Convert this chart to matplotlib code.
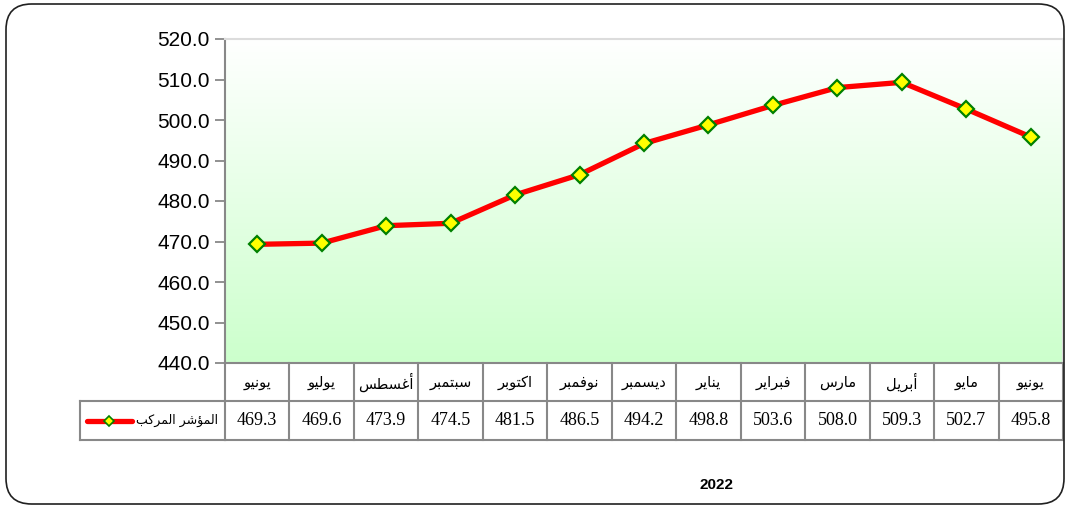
import matplotlib
matplotlib.use("Agg")
import matplotlib.pyplot as plt
from matplotlib.patches import FancyBboxPatch
from matplotlib.lines import Line2D
import matplotlib.transforms as mtransforms
import numpy as np

# data
months = ["يونيو", "يوليو", "أغسطس", "سبتمبر", "اكتوبر", "نوفمبر", "ديسمبر",
          "يناير", "فبراير", "مارس", "أبريل", "مايو", "يونيو"]
values = [469.3, 469.6, 473.9, 474.5, 481.5, 486.5, 494.2,
          498.8, 503.6, 508.0, 509.3, 502.7, 495.8]
series_name = "المؤشر المركب"
year_label = "2022"
yticks = [440, 450, 460, 470, 480, 490, 500, 510, 520]

# minimal arabic shaping (matplotlib has no bidi/joining)
# letter: (isolated, final, initial, medial) ; None -> does not join forward
FORMS = {
    "ا": (0xFE8D, 0xFE8E, None, None),
    "أ": (0xFE83, 0xFE84, None, None),
    "ب": (0xFE8F, 0xFE90, 0xFE91, 0xFE92),
    "ت": (0xFE95, 0xFE96, 0xFE97, 0xFE98),
    "د": (0xFEA9, 0xFEAA, None, None),
    "ر": (0xFEAD, 0xFEAE, None, None),
    "س": (0xFEB1, 0xFEB2, 0xFEB3, 0xFEB4),
    "ش": (0xFEB5, 0xFEB6, 0xFEB7, 0xFEB8),
    "ط": (0xFEC1, 0xFEC2, 0xFEC3, 0xFEC4),
    "غ": (0xFECD, 0xFECE, 0xFECF, 0xFED0),
    "ف": (0xFED1, 0xFED2, 0xFED3, 0xFED4),
    "ك": (0xFED9, 0xFEDA, 0xFEDB, 0xFEDC),
    "ل": (0xFEDD, 0xFEDE, 0xFEDF, 0xFEE0),
    "م": (0xFEE1, 0xFEE2, 0xFEE3, 0xFEE4),
    "ن": (0xFEE5, 0xFEE6, 0xFEE7, 0xFEE8),
    "و": (0xFEED, 0xFEEE, None, None),
    "ؤ": (0xFE85, 0xFE86, None, None),
    "ي": (0xFEF1, 0xFEF2, 0xFEF3, 0xFEF4),
}


def shape(text):
    out = []
    for i, ch in enumerate(text):
        if ch not in FORMS:
            out.append(ch)
            continue
        prev = text[i - 1] if i > 0 else None
        nxt = text[i + 1] if i + 1 < len(text) else None
        join_prev = prev in FORMS and FORMS[prev][2] is not None
        join_next = nxt in FORMS and FORMS[ch][2] is not None
        iso, fin, ini, med = FORMS[ch]
        if join_prev and join_next:
            c = med
        elif join_prev:
            c = fin
        elif join_next:
            c = ini
        else:
            c = iso
        out.append(chr(c))
    return "".join(out)[::-1]


W, H = 1068, 507
fig = plt.figure(figsize=(W / 100, H / 100), dpi=100)

# outer rounded frame
frame = FancyBboxPatch((6 / W, 3 / H), 1058 / W, 500 / H,
                       boxstyle="round,pad=0,rounding_size=0.024",
                       transform=fig.transFigure, fill=False,
                       edgecolor="#202020", linewidth=1.2,
                       mutation_aspect=W / H)
fig.patches.append(frame)

left, right, top, bottom = 225, 1063, 39, 363
ax = fig.add_axes([left / W, 1 - bottom / H, (right - left) / W, (bottom - top) / H])

x = np.arange(len(values))

# gradient background
grad = np.linspace(0, 1, 256).reshape(-1, 1)
top_c = np.array([1.0, 1.0, 1.0])
bot_c = np.array([204, 255, 204]) / 255
img = top_c[None, None, :] * (1 - grad[:, :, None]) + bot_c[None, None, :] * grad[:, :, None]
ax.imshow(img, extent=[-0.5, len(values) - 0.5, 440, 520], aspect="auto",
          origin="upper", zorder=0)
ax.set_xlim(-0.5, len(values) - 0.5)
ax.set_ylim(440, 520)

ax.plot(x, values, color="#ff0000", lw=3.8, marker="D", markersize=8,
        markerfacecolor="#ffff00", markeredgecolor="#008000",
        markeredgewidth=1.6, zorder=3, solid_capstyle="round")

ax.set_yticks(yticks)
ax.set_yticklabels([f"{v:.1f}" for v in yticks], fontsize=15,
                   family="Liberation Sans")
ax.tick_params(axis="y", length=7, width=1.3, color="#888888", pad=4)
ax.set_xticks([])
ax.spines["left"].set_color("#888888")
ax.spines["left"].set_linewidth(1.5)
for s in ["top", "right"]:
    ax.spines[s].set_color("#dcdcdc")
    ax.spines[s].set_linewidth(1.5)
ax.spines["bottom"].set_color("#888888")
ax.spines["bottom"].set_linewidth(1.5)

# data table below plot
trans = mtransforms.blended_transform_factory(ax.transData, ax.transAxes)
ph = bottom - top
y_hdr = -(401 - bottom) / ph
y_row = -(440 - bottom) / ph
grid_kw = dict(color="#888888", lw=1.5, clip_on=False, transform=trans)
n = len(values)
for i in range(n + 1):
    ax.add_line(Line2D([i - 0.5, i - 0.5], [0, y_row], **grid_kw))
ax.add_line(Line2D([-0.5, n - 0.5], [y_hdr, y_hdr], **grid_kw))
ax.add_line(Line2D([-0.5, n - 0.5], [y_row, y_row], **grid_kw))

for i, (m, v) in enumerate(zip(months, values)):
    ax.text(i, y_hdr / 2, shape(m), transform=trans, ha="center", va="center",
            fontsize=10.5, family="DejaVu Sans")
    ax.text(i, (y_hdr + y_row) / 2, f"{v:.1f}", transform=trans, ha="center",
            va="center", fontsize=13, family="Liberation Serif")

# legend cell
ax_t = ax.transAxes
aw = right - left
lx0 = (80 - left) / aw
leg_kw = dict(color="#888888", lw=1.5, clip_on=False, transform=ax_t)
ax.add_line(Line2D([lx0, 0], [y_hdr, y_hdr], **leg_kw))
ax.add_line(Line2D([lx0, 0], [y_row, y_row], **leg_kw))
ax.add_line(Line2D([lx0, lx0], [y_hdr, y_row], **leg_kw))
ym = (y_hdr + y_row) / 2
ax.add_line(Line2D([(87 - left) / aw, (132 - left) / aw], [ym, ym], color="#ff0000",
                   lw=3.8, clip_on=False, transform=ax_t, solid_capstyle="round"))
ax.add_line(Line2D([(109 - left) / aw], [ym], marker="D", markersize=5.5,
                   markerfacecolor="#ffff00", markeredgecolor="#008000",
                   markeredgewidth=1.2, clip_on=False, transform=ax_t))
ax.text((218 - left) / aw, ym, shape(series_name), transform=ax_t, ha="right",
        va="center", fontsize=9, family="DejaVu Sans")

fig.text(716 / W, 1 - 485 / H, year_label, ha="center", va="center",
         fontsize=11, fontweight="bold", family="Liberation Sans")

fig.savefig("out.png", dpi=100)
